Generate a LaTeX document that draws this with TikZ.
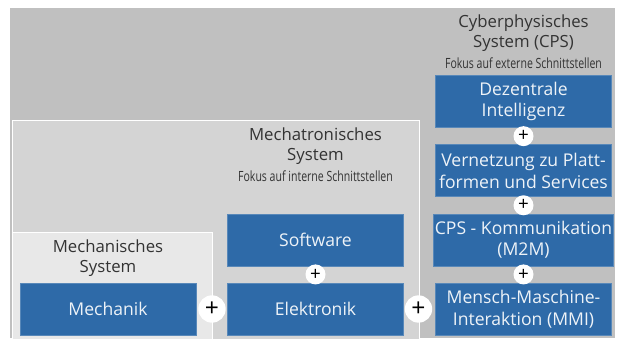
\documentclass[tikz,border=0pt]{standalone}
\usepackage{fontspec}
\usepackage{tikz}
\usepackage{xcolor}
\setmainfont{Open Sans}
\newfontfamily\condfont[FakeStretch=0.75]{Open Sans}
\usetikzlibrary{positioning}

\definecolor{boxblue}{RGB}{46,106,168}
\definecolor{cpsgrey}{RGB}{192,192,192}
\definecolor{mechagrey}{RGB}{212,212,212}
\definecolor{mechgrey}{RGB}{232,232,232}
\definecolor{titlegrey}{RGB}{51,51,51}

\begin{document}
\begin{tikzpicture}[x=0.03cm, y=-0.03cm, node distance=0.5cm,
    block/.style={fill=boxblue, draw=boxblue!80!white, text=white!92!boxblue,
        minimum width=5.28cm, minimum height=1.56cm, inner sep=1pt,
        align=center, font=\fontsize{15}{18.5}\selectfont},
    bigplus/.style={circle, fill=white, minimum size=0.82cm, inner sep=0pt,
        font=\fontsize{21}{21}\selectfont},
    smallplus/.style={circle, fill=white, minimum size=0.6cm, inner sep=0pt,
        font=\fontsize{16}{16}\selectfont},
    systitle/.style={text=titlegrey, align=center, font=\fontsize{14.3}{17.5}\selectfont},
    fokus/.style={text=titlegrey, font=\condfont\fontsize{12}{14}\selectfont}]
    \useasboundingbox (0,0) rectangle (617,340);

    % Cyberphysical System (background)
    \fill[cpsgrey] (10,8) rectangle (615,338);
    % Mechatronic System
    \draw[white, fill=mechagrey, line width=0.8pt] (12,120) rectangle (419,339);
    % Mechanical System
    \draw[white, fill=mechgrey, line width=0.8pt] (12,232) rectangle (212,339);

    % Mechanical System
    \node [block] (mechanik) at (108,309) {Mechanik};
    \node [systitle] (mech_title) at (108,258) {Mechanisches\\System};

    % Mechatronic System
    \node [block] (elektronik) at (315.5,309) {Elektronik};
    \node [block, above=of elektronik] (software) {Software};
    \node [systitle] (mecha_title) at (315.5,146) {Mechatronisches\\System};
    \node [fokus, below=-0.05cm of mecha_title] (mecha_fokus) {Fokus auf interne Schnittstellen};

    % Cyberphysical System
    \node [block] (mmi) at (523.5,309) {Mensch-Maschine-\\Interaktion (MMI)};
    \node [block, above=of mmi] (m2m) {CPS - Kommunikation\\(M2M)};
    \node [block, above=of m2m] (vernetzung) {Vernetzung zu Platt-\\formen und Services};
    \node [block, above=of vernetzung] (dezentral) {Dezentrale\\Intelligenz};
    \node [systitle] (cps_title) at (523.5,33) {Cyberphysisches\\System (CPS)};
    \node [fokus, below=-0.05cm of cps_title] (cps_fokus) {Fokus auf externe Schnittstellen};

    % Plus signs
    \node [bigplus] (plus_mech) at (212,309) {+};
    \node [bigplus] (plus_mecha) at (418.5,309) {+};
    \node [smallplus] (plus_sw) at ([yshift=-0.25cm]software.south) {+};
    \node [smallplus] (plus_dz) at ([yshift=-0.25cm]dezentral.south) {+};
    \node [smallplus] (plus_vn) at ([yshift=-0.25cm]vernetzung.south) {+};
    \node [smallplus] (plus_m2m) at ([yshift=-0.25cm]m2m.south) {+};
\end{tikzpicture}
\end{document}
